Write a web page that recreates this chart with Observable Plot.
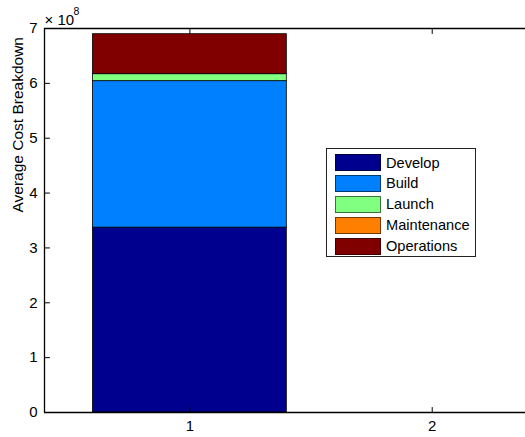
<!DOCTYPE html>
<html><head><meta charset="utf-8">
<script src="https://cdn.jsdelivr.net/npm/d3@7"></script>
<script src="https://cdn.jsdelivr.net/npm/@observablehq/plot@0.6"></script>
<style>
html,body{margin:0;padding:0;background:#fff;}
#wrap{position:relative;width:525px;height:437px;font-family:"Liberation Sans",Arial,sans-serif;}
#legend{position:absolute;left:326px;top:148px;width:148px;height:107px;border:1px solid #222;background:#fff;}
.row{position:absolute;left:8px;height:17px;display:flex;align-items:center;font-size:14.6px;color:#000;white-space:nowrap;}
.sw{width:46px;height:17px;box-sizing:border-box;margin-right:5px;border:1px solid rgba(0,0,0,0.55);}
</style></head><body><div id="wrap"></div>
<script>
// Data (values in cost units, axis shows ×10^8)
const groups = [1];
const parts = ["Develop", "Build", "Launch", "Maintenance", "Operations"];
const develop = [3.37e8];
const build = [2.67e8];
const launch = [0.127e8];
const maintenance = [0];
const operations = [0.729e8];
const partColors = ["#00008F", "#0080FF", "#80FF80", "#FF8000", "#800000"];
const xTicks = [1, 2];
const yTicks = [0, 1e8, 2e8, 3e8, 4e8, 5e8, 6e8, 7e8];
const xDomain = [0.4, 2.385];
const yDomain = [0, 7e8];
const barWidth = 0.8;

const series = [develop, build, launch, maintenance, operations];
const table = [];
groups.forEach((g, gi) => parts.forEach((p, pi) => table.push({pos: g, part: p, value: series[pi][gi]})));

const tickShape = {draw(context, l) { context.moveTo(0, 0); context.lineTo(0, -l); }};
const FS = 15;

const plot = Plot.plot({
  width: 525, height: 437,
  marginLeft: 44, marginRight: 0, marginTop: 28, marginBottom: 25,
  style: {fontSize: FS + "px", fontFamily: "'Liberation Sans', Arial, sans-serif", background: "#fff", color: "#000"},
  x: {domain: xDomain},
  y: {domain: yDomain},
  color: {domain: parts, range: partColors},
  marks: [
    Plot.rectY(table, {x1: d => d.pos - barWidth / 2, x2: d => d.pos + barWidth / 2, y: "value", fill: "part", stroke: "#000", strokeWidth: 0.8}),
    Plot.ruleY([yDomain[1]], {stroke: "#000", strokeWidth: 1.3}),
    Plot.ruleY([yDomain[0]], {stroke: "#000", strokeWidth: 1.3}),
    Plot.ruleX([xDomain[0]], {stroke: "#000", strokeWidth: 1.3}),
    // inward ticks
    Plot.vector(yTicks, {y: d => d, frameAnchor: "left", length: 5, rotate: 90, anchor: "start", shape: tickShape, stroke: "#000", strokeWidth: 1}),
    Plot.vector(xTicks, {x: d => d, frameAnchor: "bottom", length: 5, rotate: 0, anchor: "start", shape: tickShape, stroke: "#000", strokeWidth: 1}),
    Plot.vector(xTicks, {x: d => d, frameAnchor: "top", length: 5, rotate: 180, anchor: "start", shape: tickShape, stroke: "#000", strokeWidth: 1}),
    Plot.axisY({ticks: yTicks, tickFormat: d => d / 1e8, tickSize: 0, tickPadding: 7, label: null, fontSize: FS}),
    Plot.axisX({ticks: xTicks, tickFormat: d => d, tickSize: 0, tickPadding: 8, label: null, fontSize: FS}),
    Plot.text(["Average Cost Breakdown"], {frameAnchor: "left", rotate: -90, dx: -26, dy: -8, fontSize: 15.5}),
    Plot.text(["× 10"], {frameAnchor: "top-left", textAnchor: "start", lineAnchor: "bottom", dx: 0, dy: -4, fontSize: FS}),
    Plot.text(["8"], {frameAnchor: "top-left", textAnchor: "start", lineAnchor: "bottom", dx: 29, dy: -14, fontSize: 10.5})
  ]
});
document.getElementById("wrap").appendChild(plot);

const color = plot.scale("color");
const legend = document.createElement("div");
legend.id = "legend";
parts.forEach((p, i) => {
  const row = document.createElement("div");
  row.className = "row";
  row.style.top = (5 + i * 20.9) + "px";
  const sw = document.createElement("div");
  sw.className = "sw";
  sw.style.background = color.apply(p);
  const t = document.createElement("span");
  t.textContent = p;
  row.appendChild(sw); row.appendChild(t);
  legend.appendChild(row);
});
document.getElementById("wrap").appendChild(legend);
</script></body></html>
